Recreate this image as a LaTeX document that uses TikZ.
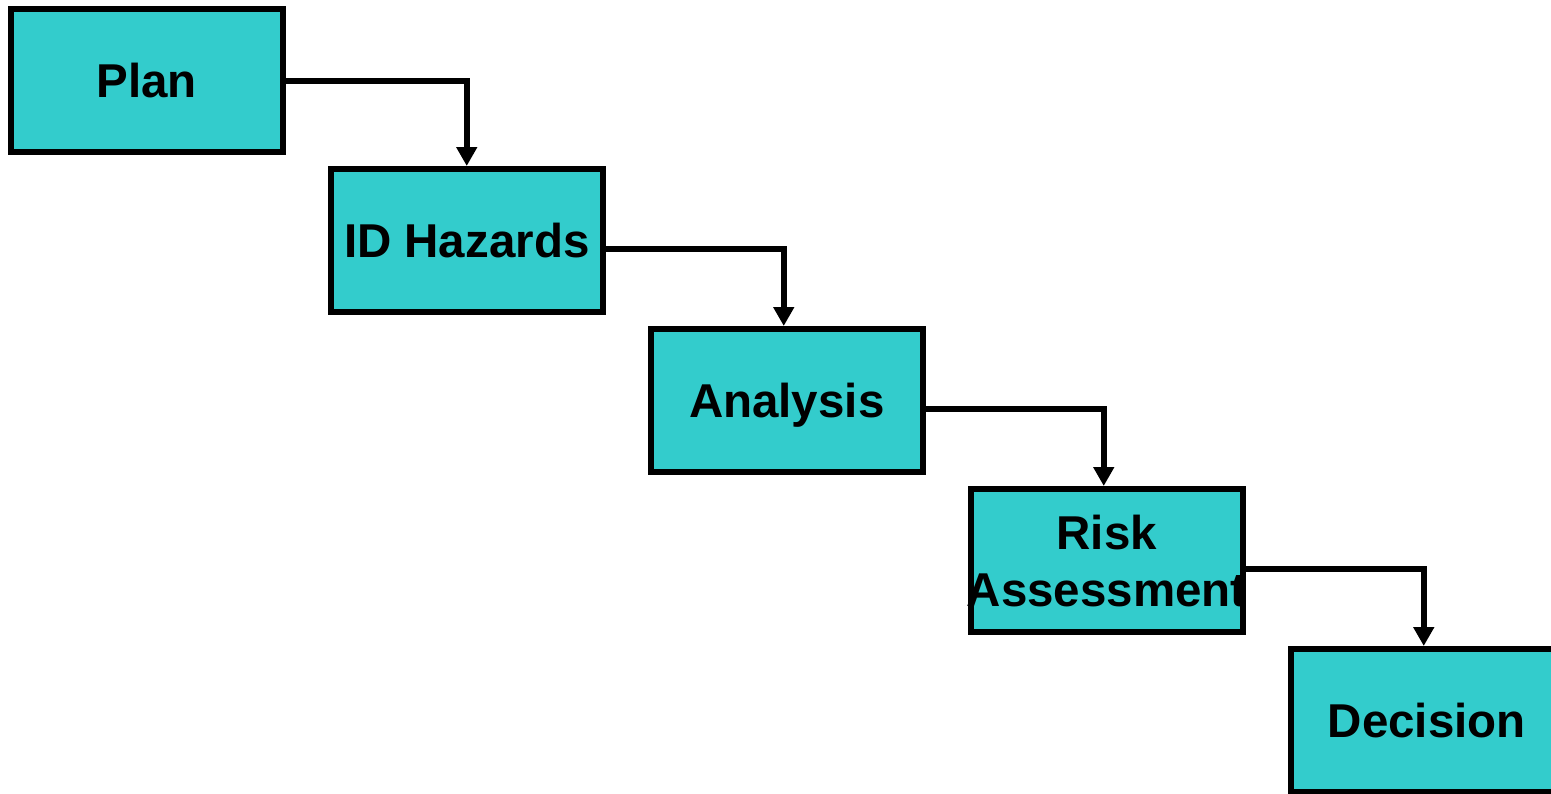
\documentclass[tikz,border=0pt]{standalone}
\usepackage{fontspec}
\setmainfont{Liberation Sans}
\usetikzlibrary{arrows.meta}
\definecolor{boxfill}{RGB}{51,204,204}
\tikzset{
  stepbox/.style={draw=black, line width=6pt, fill=boxfill, minimum width=271.5pt, minimum height=143pt,
    inner sep=0pt, align=center, text depth=0pt,
    font=\fontsize{47.5}{57}\selectfont\bfseries},
  conn/.style={draw=black, line width=6pt, -{Triangle[length=19pt,width=20pt]}}
}
\begin{document}
\begin{tikzpicture}[x=1pt,y=-1pt]
\useasboundingbox (0,0) rectangle (1551,793);
\clip (0,0) rectangle (1551,793);
\node[stepbox] (plan) at (146.75,80.5) {Plan};
\node[stepbox] (idh) at (466.75,240.5) {ID Hazards};
\node[stepbox] (ana) at (786.75,400.5) {Analysis};
\node[stepbox] (risk) at (1106.75,560.5) {Risk\\\makebox[0pt]{Assessment}};
\node[stepbox] (dec) at (1426.75,720.5) {Decision};
\draw[conn] (plan.east) -| (idh.north);
\draw[conn] ([yshift=-8pt]idh.east) -| ([xshift=-3pt]ana.north);
\draw[conn] ([yshift=-8pt]ana.east) -| ([xshift=-3pt]risk.north);
\draw[conn] ([yshift=-8pt]risk.east) -| ([xshift=-3pt]dec.north);
\end{tikzpicture}
\end{document}
